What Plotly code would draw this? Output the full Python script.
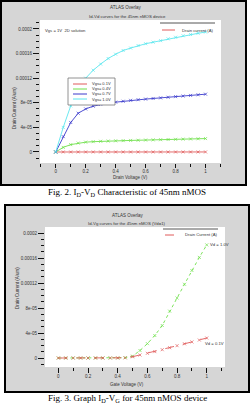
import plotly.graph_objects as go

W, H = 252, 403

# ---------------- data ----------------
vd = [0, 0.05, 0.1, 0.15, 0.2, 0.25, 0.3, 0.35, 0.4, 0.45, 0.5,
      0.55, 0.6, 0.65, 0.7, 0.75, 0.8, 0.85, 0.9, 0.95, 1.0]
id_vgs01 = [0, 1e-8, 2e-8, 2.5e-8, 3e-8, 3e-8, 3.2e-8, 3.3e-8, 3.4e-8, 3.5e-8, 3.6e-8,
            3.7e-8, 3.8e-8, 3.9e-8, 4e-8, 4.1e-8, 4.2e-8, 4.3e-8, 4.4e-8, 4.5e-8, 4.6e-8]
id_vgs04 = [0, 7.5e-6, 1.2e-5, 1.45e-5, 1.6e-5, 1.68e-5, 1.74e-5, 1.78e-5, 1.82e-5, 1.85e-5, 1.88e-5,
            1.91e-5, 1.94e-5, 1.97e-5, 2.0e-5, 2.03e-5, 2.06e-5, 2.09e-5, 2.12e-5, 2.15e-5, 2.18e-5]
id_vgs07 = [0, 2.5e-5, 4.8e-5, 6.3e-5, 7.0e-5, 7.45e-5, 7.75e-5, 7.95e-5, 8.1e-5, 8.25e-5, 8.4e-5,
            8.5e-5, 8.6e-5, 8.7e-5, 8.8e-5, 8.9e-5, 9.0e-5, 9.1e-5, 9.2e-5, 9.3e-5, 9.4e-5]
id_vgs10 = [0, 4.0e-5, 7.5e-5, 1.03e-4, 1.2e-4, 1.33e-4, 1.43e-4, 1.52e-4, 1.59e-4, 1.65e-4, 1.69e-4,
            1.73e-4, 1.76e-4, 1.785e-4, 1.81e-4, 1.84e-4, 1.865e-4, 1.89e-4, 1.91e-4, 1.93e-4, 1.95e-4]
series1_names = ["Vgs= 0.1V", "Vgs= 0.4V", "Vgs= 0.7V", "Vgs= 1.0V"]

vg = [0, 0.05, 0.1, 0.15, 0.2, 0.25, 0.3, 0.35, 0.4, 0.45, 0.5,
      0.55, 0.6, 0.65, 0.7, 0.75, 0.8, 0.85, 0.9, 0.95, 1.0]
id_vd10 = [0, 1e-9, 2e-9, 4e-9, 8e-9, 1.5e-8, 3e-8, 6e-8, 1.2e-7, 5e-7, 3e-6,
           1.2e-5, 2.3e-5, 3.6e-5, 5.2e-5, 7.5e-5, 9.6e-5, 1.18e-4, 1.4e-4, 1.61e-4, 1.81e-4]
id_vd01 = [0, 1e-9, 2e-9, 3e-9, 6e-9, 1e-8, 2e-8, 4e-8, 8e-8, 3e-7, 2e-6,
           4.8e-6, 7.5e-6, 1.02e-5, 1.33e-5, 1.65e-5, 1.97e-5, 2.27e-5, 2.57e-5, 2.87e-5, 3.2e-5]

x_ticks = [0, 0.2, 0.4, 0.6, 0.8, 1.0]
x_ticktext = ["0", "0.2", "0.4", "0.6", "0.8", "1"]
y_ticks = [0, 4e-5, 8e-5, 1.2e-4, 1.6e-4, 2e-4]
y_ticktext = ["0", "4e-05", "8e-05", "0.00012", "0.00016", "0.0002"]

colors1 = ["#e05a5a", "#6ee04a", "#3a3acc", "#5ae6ee"]
RED, GREEN = "#e05a5a", "#6ee04a"

# ---------------- helpers ----------------
def px(x):
    return x / W

def py(y):
    return 1 - y / H

fig = go.Figure()

for ys, c in zip([id_vgs01, id_vgs04, id_vgs07, id_vgs10], colors1):
    fig.add_trace(go.Scatter(x=vd, y=ys, mode="lines+markers", xaxis="x", yaxis="y",
                             line=dict(color=c, width=0.9),
                             marker=dict(symbol="x-thin", size=3, line=dict(color=c, width=0.7)),
                             showlegend=False))

fig.add_trace(go.Scatter(x=vg, y=id_vd10, mode="lines+markers", xaxis="x2", yaxis="y2",
                         line=dict(color=GREEN, width=0.9, dash="dot"),
                         marker=dict(symbol="x-thin", size=3, line=dict(color=GREEN, width=0.7)),
                         showlegend=False))
fig.add_trace(go.Scatter(x=vg, y=id_vd01, mode="lines+markers", xaxis="x2", yaxis="y2",
                         line=dict(color=RED, width=0.9, dash="dash"),
                         marker=dict(symbol="x-thin", size=3, line=dict(color=RED, width=0.7)),
                         showlegend=False))

axfont = dict(family="Liberation Sans", size=4.5, color="#333")

def xax(domain, rng, tl):
    return dict(domain=domain, range=rng, tickvals=x_ticks, ticktext=x_ticktext,
                ticks="outside", ticklen=tl, tickwidth=0.8, tickcolor="#111",
                minor=dict(dtick=0.1, ticks="outside", ticklen=2.5, tickwidth=0.8, tickcolor="#111"),
                showgrid=False, zeroline=False, showline=False, tickfont=axfont, fixedrange=True)

def yax(domain, rng):
    return dict(domain=domain, range=rng, tickvals=y_ticks, ticktext=y_ticktext,
                ticks="outside", ticklen=6, tickwidth=0.8, tickcolor="#111",
                minor=dict(dtick=1e-5, ticks="outside", ticklen=3, tickwidth=0.8, tickcolor="#111"),
                showgrid=False, zeroline=False, showline=False, tickfont=axfont, fixedrange=True)

shapes = []
ann = []

def rect(x0, y0, x1, y1, fill, lc=None, lw=0, layer="below"):
    shapes.append(dict(type="rect", xref="paper", yref="paper", x0=px(x0), x1=px(x1),
                       y0=py(y1), y1=py(y0), fillcolor=fill, layer=layer,
                       line=dict(color=lc or fill, width=lw)))

def hline(x0, x1, y, color, w=1, dash="solid", layer="above"):
    shapes.append(dict(type="line", xref="paper", yref="paper", x0=px(x0), x1=px(x1),
                       y0=py(y), y1=py(y), layer=layer, line=dict(color=color, width=w, dash=dash)))

def text(x, y, s, size=4.5, anchor="center", family="Liberation Sans", color="#333", angle=0):
    ann.append(dict(x=px(x), y=py(y), xref="paper", yref="paper", text=s, showarrow=False,
                    xanchor=anchor, yanchor="middle", textangle=angle,
                    font=dict(family=family, size=size, color=color)))

GRAY = "#d6d6d6"
# frames
rect(1, 1, 246, 185, GRAY, "#000", 2)
rect(40, 20, 221, 163, "white")
rect(5, 205, 249, 392, GRAY, "#000", 2)
rect(45, 227, 225, 367, "white")

# ---- chart 1 texts ----
text(125, 7, "ATLAS Overlay", 4.5)
text(127, 16, "Id-Vd curves for the 45nm nMOS device", 4.3)
text(43, 30, "Vgs = 1V  2D solution", 4.2, anchor="left")
hline(160, 215, 23, "#555", 1)
hline(162, 175, 30, RED, 1)
text(180, 30, "Drain current (A)", 4.2, anchor="left")
text(15, 108, "Drain Current (A/um)", 4.5, angle=-90)
text(130, 178, "Drain Voltage (V)", 4.5)

# legend box
rect(68, 78, 115, 105, "white", "#777", 0.8, layer="above")
for i, (nm, c) in enumerate(zip(series1_names, colors1)):
    yy = 84 + 5 * i
    hline(73, 87, yy, c, 1)
    text(90, yy, nm, 4, anchor="left")

# ---- chart 2 texts ----
text(127, 215, "ATLAS Overlay", 4.5)
text(127, 223, "Id-Vg curves for the 45nm nMOS (Vd=1)", 4.3)
hline(163, 218, 229, "#555", 1)
hline(165, 180, 235, RED, 1, dash="dash")
text(183, 235, "Drain Current (A)", 4.2, anchor="left")
text(208, 245, "Vd = 1.0V", 4.2, anchor="left")
text(203, 343, "Vd = 0.1V", 4.2, anchor="left")
text(17, 288, "Drain Current (A/um)", 4.5, angle=-90)
text(127, 384, "Gate Voltage (V)", 4.5)

# captions
text(127, 192, "Fig. 2. I<sub>D</sub>-V<sub>D</sub> Characteristic of 45nm nMOS", 9,
     family="Liberation Serif", color="#000")
text(127, 398, "Fig. 3. Graph I<sub>D</sub>-V<sub>G</sub> for 45nm nMOS device", 9,
     family="Liberation Serif", color="#000")

fig.update_layout(
    width=W, height=H, margin=dict(l=0, r=0, t=0, b=0),
    paper_bgcolor="white", plot_bgcolor="white", showlegend=False,
    xaxis=xax([px(40), px(221)], [-0.105, 1.103], 4),
    yaxis=yax([py(163), py(20)], [-1.79e-5, 2.146e-4]),
    xaxis2=dict(xax([px(45), px(225)], [-0.09, 1.123], 5), anchor="y2"),
    yaxis2=dict(yax([py(367), py(227)], [-1.44e-5, 2.096e-4]), anchor="x2"),
    shapes=shapes, annotations=ann,
)
fig.layout.xaxis.anchor = "y"
fig.layout.yaxis.anchor = "x"

fig.write_html("out.html")
